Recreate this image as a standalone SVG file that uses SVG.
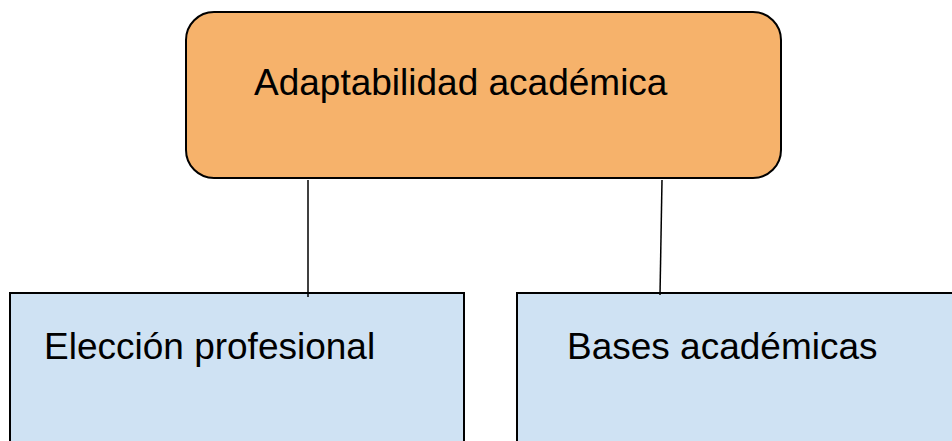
<svg xmlns="http://www.w3.org/2000/svg" width="952" height="441" viewBox="0 0 952 441">
<style>
text{font-family:"Liberation Sans",Arial,sans-serif;font-size:37px;fill:#000}
.box{stroke:#000;stroke-width:2}
.conn{stroke:#000;stroke-width:1.5;fill:none}
</style>
<rect width="952" height="441" fill="#fff"/>
<g id="node-top">
<rect class="box" x="186" y="12" width="595" height="166" rx="28" ry="28" fill="#F6B26B"/>
<text x="254" y="95">Adaptabilidad académica</text>
</g>
<g id="node-left">
<rect class="box" x="10" y="293" width="454" height="160" fill="#CFE2F3"/>
<text x="44" y="359">Elección profesional</text>
</g>
<g id="node-right">
<rect class="box" x="517" y="293" width="445" height="160" fill="#CFE2F3"/>
<text x="567" y="359">Bases académicas</text>
</g>
<g id="connectors">
<line class="conn" x1="308" y1="180" x2="308" y2="297"/>
<line class="conn" x1="662" y1="180" x2="660" y2="295"/>
</g>
</svg>
